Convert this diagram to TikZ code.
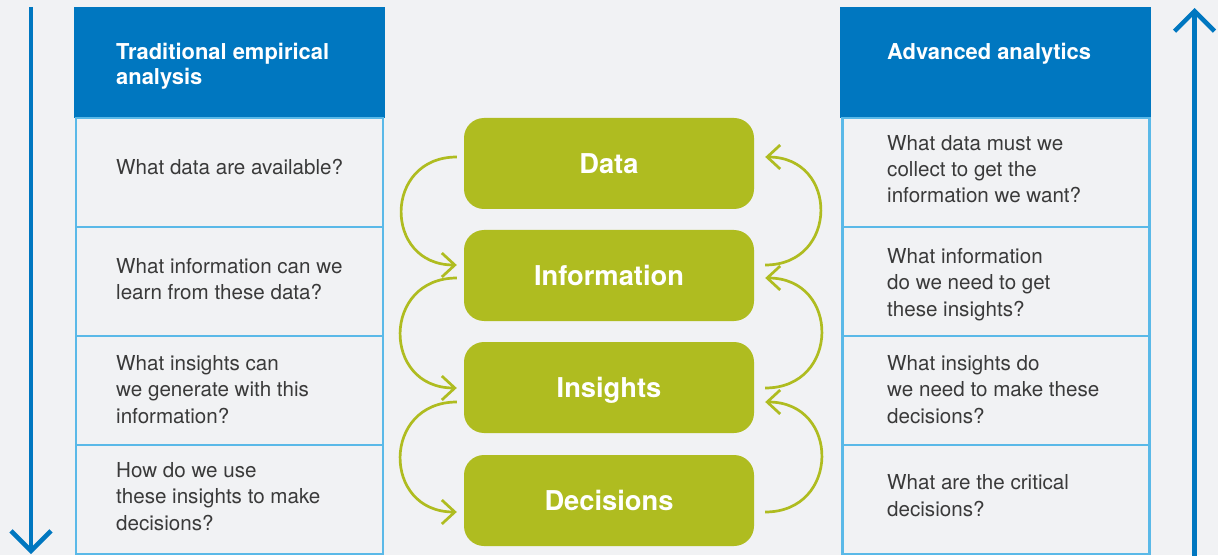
\documentclass[tikz,border=0pt]{standalone}
\usepackage{fontspec}
\setmainfont{TeX Gyre Heros}
\usetikzlibrary{arrows.meta,calc}
\definecolor{bg}{HTML}{F1F2F4}
\definecolor{hdrblue}{HTML}{0077C0}
\definecolor{rowline}{HTML}{5AB9E8}
\definecolor{lime}{HTML}{AFBC20}
\definecolor{bodytext}{HTML}{3A3A3A}
\begin{document}
\begin{tikzpicture}[x=1pt,y=1pt,
  hdrbox/.style={rectangle, fill=hdrblue, minimum width=311pt, minimum height=111pt, inner sep=0pt},
  rowbox/.style={rectangle, draw=rowline, line width=2.7pt, minimum width=307pt, minimum height=109pt, inner sep=0pt},
  hdrtext/.style={anchor=base west, align=left, text=white, font=\fontsize{21.9}{25.7}\selectfont\bfseries, inner sep=0pt},
  bodytxt/.style={anchor=base west, align=left, text=bodytext, font=\fontsize{20.6}{26.3}\selectfont, inner sep=0pt},
  stage/.style={rectangle, rounded corners=20pt, fill=lime, minimum width=290pt, minimum height=91pt, inner sep=0pt, text=white, font=\fontsize{27.3}{30}\selectfont\bfseries, text height=19.5pt, text depth=0pt},
  bigarrow/.style={draw=hdrblue, line width=4.5pt, -{Straight Barb[length=20pt,width=40pt]}},
  cyclearc/.style={draw=lime, line width=2.7pt, -{Straight Barb[length=13pt,width=24pt]}, looseness=1.75}
]
\useasboundingbox (0,0) rectangle (1218,555);
\fill[bg] (0,0) rectangle (1218,555);

% left table
\node[hdrbox] (lhdr) at (229.5,492.5) {};
\node[rowbox] (lr1) at (229.5,382.5) {};
\node[rowbox] (lr2) at (229.5,273.5) {};
\node[rowbox] (lr3) at (229.5,164.5) {};
\node[rowbox] (lr4) at (229.5,55.5) {};
\node[hdrtext] (lhdrt) at (116,470) {Traditional empirical\\analysis};
\node[bodytxt] (lt1) at (116,380) {What data are available?};
\node[bodytxt] (lt2) at (116,255) {What information can we\\learn from these data?};
\node[bodytxt] (lt3) at (116,132) {What insights can\\we generate with this\\information?};
\node[bodytxt] (lt4) at (116,25) {How do we use\\these insights to make\\decisions?};

% right table
\node[hdrbox] (rhdr) at (995.5,492.5) {};
\node[rowbox] (rr1) at (995.75,382.5) {};
\node[rowbox] (rr2) at (995.75,273.5) {};
\node[rowbox] (rr3) at (995.75,164.5) {};
\node[rowbox] (rr4) at (995.75,55.5) {};
\node[hdrtext] (rhdrt) at (887,495.7) {Advanced analytics};
\node[bodytxt] (rt1) at (887,352) {What data must we\\collect to get the\\information we want?};
\node[bodytxt] (rt2) at (887,239) {What information\\do we need to get\\these insights?};
\node[bodytxt] (rt3) at (887,132) {What insights do\\we need to make these\\decisions?};
\node[bodytxt] (rt4) at (887,39) {What are the critical\\decisions?};

% centre stages
\node[stage] (data) at (609,391.5) {Data};
\node[stage] (info) at (609,279.5) {Information};
\node[stage] (ins) at (609,167.5) {Insights};
\node[stage] (dec) at (609,54.5) {Decisions};

% left arcs (downwards)
\draw[cyclearc] ([shift={(-7pt,6.5pt)}]data.west) to[out=180,in=180] ([shift={(-7pt,10.5pt)}]info.west);
\draw[cyclearc] ([shift={(-7pt,-2.5pt)}]info.west) to[out=180,in=180] ([shift={(-7pt,-0.5pt)}]ins.west);
\draw[cyclearc] ([shift={(-7pt,-14.5pt)}]ins.west) to[out=180,in=180] ([shift={(-7pt,-11.5pt)}]dec.west);

% right arcs (upwards)
\draw[cyclearc] ([shift={(11pt,10.5pt)}]info.east) to[out=0,in=0] ([shift={(11pt,6.5pt)}]data.east);
\draw[cyclearc] ([shift={(11pt,-0.5pt)}]ins.east) to[out=0,in=0] ([shift={(11pt,-2.5pt)}]info.east);
\draw[cyclearc] ([shift={(11pt,-11.5pt)}]dec.east) to[out=0,in=0] ([shift={(11pt,-14.5pt)}]ins.east);

% long side arrows
\coordinate (ltop) at (31,548);
\coordinate (lbot) at (31,1);
\draw[bigarrow] (ltop) -- (lbot);
\coordinate (rbot) at (1194.5,-2);
\coordinate (rtop) at (1194.5,547);
\draw[bigarrow] (rbot) -- (rtop);
\end{tikzpicture}
\end{document}
